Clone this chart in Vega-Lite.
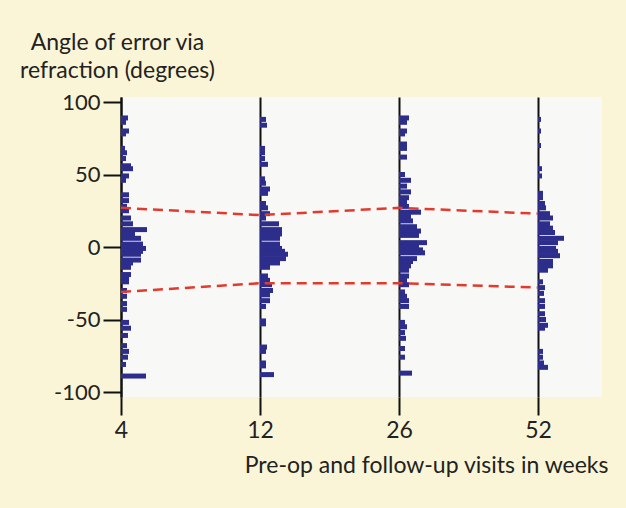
{
  "$schema": "https://vega.github.io/schema/vega-lite/v6.json",
  "width": 481,
  "height": 300,
  "autosize": "none",
  "padding": {"left": 121, "top": 97, "right": 24, "bottom": 111},
  "background": "#faf5d6",
  "config": {
    "view": {"fill": "#f8f8f6", "stroke": null},
    "font": "Lato",
    "axis": {"labelFont": "Lato", "titleFont": "Lato", "labelColor": "#222222", "titleColor": "#222222", "titleFontWeight": "normal"}
  },
  "datasets": {
    "hist": [
      {"visit": "4", "angle": 89, "count": 7},
      {"visit": "4", "angle": 86, "count": 5},
      {"visit": "4", "angle": 80, "count": 8},
      {"visit": "4", "angle": 78, "count": 5},
      {"visit": "4", "angle": 68, "count": 4},
      {"visit": "4", "angle": 65, "count": 6},
      {"visit": "4", "angle": 61, "count": 5},
      {"visit": "4", "angle": 56, "count": 10},
      {"visit": "4", "angle": 54, "count": 12},
      {"visit": "4", "angle": 49, "count": 8},
      {"visit": "4", "angle": 46, "count": 5},
      {"visit": "4", "angle": 36, "count": 8},
      {"visit": "4", "angle": 32, "count": 8},
      {"visit": "4", "angle": 28, "count": 6},
      {"visit": "4", "angle": 25, "count": 8},
      {"visit": "4", "angle": 20, "count": 10},
      {"visit": "4", "angle": 16, "count": 12},
      {"visit": "4", "angle": 12, "count": 26},
      {"visit": "4", "angle": 9, "count": 14},
      {"visit": "4", "angle": 6, "count": 20},
      {"visit": "4", "angle": 2, "count": 22},
      {"visit": "4", "angle": -1, "count": 25},
      {"visit": "4", "angle": -3, "count": 22},
      {"visit": "4", "angle": -5, "count": 20},
      {"visit": "4", "angle": -9, "count": 20},
      {"visit": "4", "angle": -11, "count": 12},
      {"visit": "4", "angle": -14, "count": 10},
      {"visit": "4", "angle": -19, "count": 10},
      {"visit": "4", "angle": -22, "count": 8},
      {"visit": "4", "angle": -24, "count": 8},
      {"visit": "4", "angle": -30, "count": 6},
      {"visit": "4", "angle": -34, "count": 6},
      {"visit": "4", "angle": -39, "count": 6},
      {"visit": "4", "angle": -43, "count": 6},
      {"visit": "4", "angle": -52, "count": 8},
      {"visit": "4", "angle": -56, "count": 10},
      {"visit": "4", "angle": -61, "count": 7},
      {"visit": "4", "angle": -68, "count": 6},
      {"visit": "4", "angle": -72, "count": 8},
      {"visit": "4", "angle": -76, "count": 7},
      {"visit": "4", "angle": -81, "count": 5},
      {"visit": "4", "angle": -89, "count": 25},

      {"visit": "12", "angle": 88, "count": 6},
      {"visit": "12", "angle": 84, "count": 7},
      {"visit": "12", "angle": 68, "count": 5},
      {"visit": "12", "angle": 65, "count": 5},
      {"visit": "12", "angle": 61, "count": 5},
      {"visit": "12", "angle": 57, "count": 8},
      {"visit": "12", "angle": 47, "count": 5},
      {"visit": "12", "angle": 44, "count": 6},
      {"visit": "12", "angle": 40, "count": 10},
      {"visit": "12", "angle": 37, "count": 8},
      {"visit": "12", "angle": 30, "count": 6},
      {"visit": "12", "angle": 27, "count": 8},
      {"visit": "12", "angle": 23, "count": 10},
      {"visit": "12", "angle": 20, "count": 6},
      {"visit": "12", "angle": 16, "count": 19},
      {"visit": "12", "angle": 12, "count": 22},
      {"visit": "12", "angle": 9, "count": 22},
      {"visit": "12", "angle": 6, "count": 20},
      {"visit": "12", "angle": 2, "count": 20},
      {"visit": "12", "angle": -1, "count": 22},
      {"visit": "12", "angle": -3, "count": 25},
      {"visit": "12", "angle": -5, "count": 28},
      {"visit": "12", "angle": -8, "count": 26},
      {"visit": "12", "angle": -11, "count": 20},
      {"visit": "12", "angle": -14, "count": 10},
      {"visit": "12", "angle": -20, "count": 8},
      {"visit": "12", "angle": -23, "count": 10},
      {"visit": "12", "angle": -26, "count": 12},
      {"visit": "12", "angle": -30, "count": 13},
      {"visit": "12", "angle": -33, "count": 10},
      {"visit": "12", "angle": -37, "count": 10},
      {"visit": "12", "angle": -41, "count": 6},
      {"visit": "12", "angle": -51, "count": 6},
      {"visit": "12", "angle": -53, "count": 6},
      {"visit": "12", "angle": -69, "count": 7},
      {"visit": "12", "angle": -72, "count": 6},
      {"visit": "12", "angle": -80, "count": 6},
      {"visit": "12", "angle": -82, "count": 6},
      {"visit": "12", "angle": -88, "count": 14},

      {"visit": "26", "angle": 89, "count": 10},
      {"visit": "26", "angle": 86, "count": 8},
      {"visit": "26", "angle": 80, "count": 8},
      {"visit": "26", "angle": 78, "count": 6},
      {"visit": "26", "angle": 71, "count": 8},
      {"visit": "26", "angle": 68, "count": 8},
      {"visit": "26", "angle": 62, "count": 8},
      {"visit": "26", "angle": 50, "count": 6},
      {"visit": "26", "angle": 46, "count": 12},
      {"visit": "26", "angle": 42, "count": 8},
      {"visit": "26", "angle": 38, "count": 12},
      {"visit": "26", "angle": 34, "count": 10},
      {"visit": "26", "angle": 31, "count": 8},
      {"visit": "26", "angle": 28, "count": 10},
      {"visit": "26", "angle": 24, "count": 22},
      {"visit": "26", "angle": 21, "count": 12},
      {"visit": "26", "angle": 18, "count": 14},
      {"visit": "26", "angle": 14, "count": 18},
      {"visit": "26", "angle": 11, "count": 22},
      {"visit": "26", "angle": 8, "count": 20},
      {"visit": "26", "angle": 3, "count": 28},
      {"visit": "26", "angle": 0, "count": 20},
      {"visit": "26", "angle": -2, "count": 24},
      {"visit": "26", "angle": -4, "count": 26},
      {"visit": "26", "angle": -8, "count": 18},
      {"visit": "26", "angle": -10, "count": 14},
      {"visit": "26", "angle": -13, "count": 12},
      {"visit": "26", "angle": -16, "count": 10},
      {"visit": "26", "angle": -20, "count": 10},
      {"visit": "26", "angle": -23, "count": 8},
      {"visit": "26", "angle": -26, "count": 10},
      {"visit": "26", "angle": -31, "count": 6},
      {"visit": "26", "angle": -34, "count": 8},
      {"visit": "26", "angle": -37, "count": 10},
      {"visit": "26", "angle": -41, "count": 10},
      {"visit": "26", "angle": -52, "count": 6},
      {"visit": "26", "angle": -55, "count": 8},
      {"visit": "26", "angle": -59, "count": 6},
      {"visit": "26", "angle": -63, "count": 7},
      {"visit": "26", "angle": -70, "count": 6},
      {"visit": "26", "angle": -76, "count": 6},
      {"visit": "26", "angle": -87, "count": 13},

      {"visit": "52", "angle": 88, "count": 3},
      {"visit": "52", "angle": 80, "count": 3},
      {"visit": "52", "angle": 70, "count": 3},
      {"visit": "52", "angle": 54, "count": 4},
      {"visit": "52", "angle": 49, "count": 4},
      {"visit": "52", "angle": 37, "count": 5},
      {"visit": "52", "angle": 34, "count": 5},
      {"visit": "52", "angle": 30, "count": 7},
      {"visit": "52", "angle": 27, "count": 8},
      {"visit": "52", "angle": 23, "count": 12},
      {"visit": "52", "angle": 20, "count": 15},
      {"visit": "52", "angle": 16, "count": 12},
      {"visit": "52", "angle": 13, "count": 15},
      {"visit": "52", "angle": 10, "count": 17},
      {"visit": "52", "angle": 6, "count": 26},
      {"visit": "52", "angle": 3, "count": 20},
      {"visit": "52", "angle": -1, "count": 18},
      {"visit": "52", "angle": -3, "count": 20},
      {"visit": "52", "angle": -6, "count": 22},
      {"visit": "52", "angle": -10, "count": 15},
      {"visit": "52", "angle": -13, "count": 15},
      {"visit": "52", "angle": -16, "count": 10},
      {"visit": "52", "angle": -24, "count": 5},
      {"visit": "52", "angle": -28, "count": 7},
      {"visit": "52", "angle": -32, "count": 6},
      {"visit": "52", "angle": -37, "count": 7},
      {"visit": "52", "angle": -41, "count": 7},
      {"visit": "52", "angle": -46, "count": 7},
      {"visit": "52", "angle": -50, "count": 8},
      {"visit": "52", "angle": -54, "count": 10},
      {"visit": "52", "angle": -56, "count": 7},
      {"visit": "52", "angle": -72, "count": 5},
      {"visit": "52", "angle": -76, "count": 5},
      {"visit": "52", "angle": -80, "count": 6},
      {"visit": "52", "angle": -83, "count": 10}
    ],
    "limits": [
      {"visit": "4", "bound": "upper", "value": 27},
      {"visit": "12", "bound": "upper", "value": 22},
      {"visit": "26", "bound": "upper", "value": 27},
      {"visit": "52", "bound": "upper", "value": 23},
      {"visit": "4", "bound": "lower", "value": -31},
      {"visit": "12", "bound": "lower", "value": -25},
      {"visit": "26", "bound": "lower", "value": -25},
      {"visit": "52", "bound": "lower", "value": -28}
    ]
  },
  "layer": [
    {
      "data": {"name": "hist"},
      "transform": [{"filter": "datum.visit === '4'"}],
      "mark": {"type": "bar", "orient": "horizontal", "size": 5, "color": "#2d2d8c"},
      "encoding": {
        "x": {"field": "count", "type": "quantitative", "scale": {"domain": [0, 481], "nice": false, "zero": false}, "axis": null},
        "y": {
          "field": "angle", "type": "quantitative",
          "scale": {"domain": [-100, 100], "nice": false},
          "axis": {
            "values": [-100, -50, 0, 50, 100],
            "labelExpr": "'' + datum.value",
            "grid": false,
            "labelFontSize": 22,
            "labelPadding": 3,
            "tickSize": 18,
            "tickWidth": 2,
            "tickColor": "#111111",
            "domainColor": "#111111",
            "domainWidth": 2,
            "title": ["Angle of error via", "refraction (degrees)"],
            "titleFontSize": 23,
            "titleAngle": 0,
            "titleAlign": "center",
            "titleBaseline": "top",
            "titleX": -4,
            "titleY": -66,
            "titleLineHeight": 28
          }
        }
      }
    },
    {
      "data": {"name": "hist"},
      "transform": [{"filter": "datum.visit === '12'"}],
      "mark": {"type": "bar", "orient": "horizontal", "size": 5, "color": "#2d2d8c"},
      "encoding": {
        "x": {"field": "count", "type": "quantitative", "scale": {"domain": [-139, 342], "nice": false, "zero": false}, "axis": null},
        "y": {"field": "angle", "type": "quantitative"}
      }
    },
    {
      "data": {"name": "hist"},
      "transform": [{"filter": "datum.visit === '26'"}],
      "mark": {"type": "bar", "orient": "horizontal", "size": 5, "color": "#2d2d8c"},
      "encoding": {
        "x": {"field": "count", "type": "quantitative", "scale": {"domain": [-278, 203], "nice": false, "zero": false}, "axis": null},
        "y": {"field": "angle", "type": "quantitative"}
      }
    },
    {
      "data": {"name": "hist"},
      "transform": [{"filter": "datum.visit === '52'"}],
      "mark": {"type": "bar", "orient": "horizontal", "size": 5, "color": "#2d2d8c"},
      "encoding": {
        "x": {"field": "count", "type": "quantitative", "scale": {"domain": [-417, 64], "nice": false, "zero": false}, "axis": null},
        "y": {"field": "angle", "type": "quantitative"}
      }
    },
    {
      "mark": {"type": "rule", "color": "#2b2b88", "strokeWidth": 4},
      "encoding": {"y": {"datum": 0}}
    },
    {
      "data": {"name": "limits"},
      "mark": {"type": "line", "color": "#e23a2e", "strokeWidth": 2.5, "strokeDash": [10, 6]},
      "encoding": {
        "x": {
          "field": "visit", "type": "ordinal",
          "scale": {"type": "point", "domain": ["4", "12", "26", "52"], "range": [0, 417], "padding": 0},
          "axis": {
            "labelAngle": 0,
            "labelFontSize": 23,
            "labelPadding": 4,
            "tickSize": 18,
            "tickWidth": 2,
            "tickColor": "#111111",
            "domain": false,
            "grid": true,
            "gridColor": "#111111",
            "gridWidth": 2,
            "title": "Pre-op and follow-up visits in weeks",
            "titleFontSize": 23,
            "titleAlign": "right",
            "titleAnchor": null,
            "titleX": 487,
            "titleY": 68,
            "titleBaseline": "middle"
          }
        },
        "y": {"field": "value", "type": "quantitative"},
        "detail": {"field": "bound"}
      }
    },
    {
      "mark": {"type": "rule", "color": "#111111", "strokeWidth": 2.5},
      "encoding": {"y": {"datum": -100}}
    }
  ],
  "resolve": {"scale": {"x": "independent"}, "axis": {"x": "independent"}}
}
